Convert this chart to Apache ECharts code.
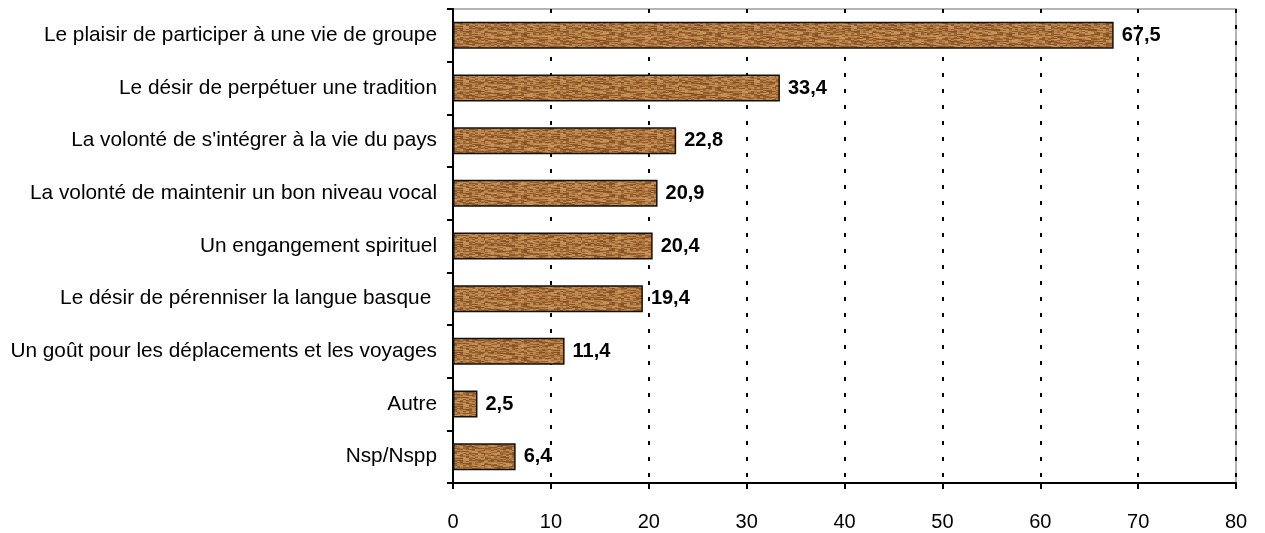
<!DOCTYPE html>
<html>
<head>
<meta charset="utf-8">
<script src="https://cdn.jsdelivr.net/npm/echarts@6/dist/echarts.min.js"></script>
<style>
html,body{margin:0;padding:0;background:#fff;}
#c{width:1265px;height:533px;}
</style>
</head>
<body>
<div id="c"></div>
<script>
const categories = [
  "Le plaisir de participer à une vie de groupe",
  "Le désir de perpétuer une tradition",
  "La volonté de s'intégrer à la vie du pays",
  "La volonté de maintenir un bon niveau vocal",
  "Un engangement spirituel",
  "Le désir de pérenniser la langue basque ",
  "Un goût pour les déplacements et les voyages",
  "Autre",
  "Nsp/Nspp"
];
const values = [67.5, 33.4, 22.8, 20.9, 20.4, 19.4, 11.4, 2.5, 6.4];
const xTicks = { min: 0, max: 80, interval: 10 };

// wood-like texture (style only)
function makeWood() {
  const c = document.createElement('canvas');
  c.width = 97; c.height = 27;
  const g = c.getContext('2d');
  g.fillStyle = '#a46a36';
  g.fillRect(0, 0, c.width, c.height);
  const shades = ['#c8955a', '#8c5326', '#b98147', '#7f4b22', '#cf9f63', '#9a5f2c', '#b0773f'];
  for (let y = 0; y < c.height; y++) {
    for (let x = 0; x < c.width; x += 3) {
      const k = Math.floor(Math.abs(Math.sin(x * 0.37 + y * 1.91) * 7 + Math.cos(y * 0.83 + x * 0.05) * 5)) % shades.length;
      const len = 3 + (Math.floor(Math.abs(Math.sin(x * 1.3 + y)) * 7));
      g.globalAlpha = 0.7;
      g.fillStyle = shades[k];
      g.fillRect(x, y, len, 1);
    }
  }
  g.globalAlpha = 1;
  return c;
}

const FONT = 'Liberation Sans, Arial, sans-serif';
const chart = echarts.init(document.getElementById('c'), null, { renderer: 'canvas' });
chart.setOption({
  animation: false,
  backgroundColor: '#fff',
  grid: { left: 453, right: 29, top: 9, bottom: 50, show: true, borderColor: '#9a9a9a', borderWidth: 1.5, backgroundColor: 'transparent' },
  xAxis: {
    type: 'value',
    min: xTicks.min, max: xTicks.max, interval: xTicks.interval,
    axisLine: { show: true, lineStyle: { color: '#000', width: 2 } },
    axisTick: { show: true, length: 6, lineStyle: { color: '#000', width: 2 } },
    axisLabel: { color: '#000', fontSize: 20, fontFamily: FONT, margin: 29 },
    splitLine: { show: true, lineStyle: { color: '#000', width: 2, type: [4, 12] } }
  },
  yAxis: {
    type: 'category',
    data: categories,
    inverse: true,
    axisLine: { show: true, lineStyle: { color: '#000', width: 2 } },
    axisTick: { show: true, length: 6, lineStyle: { color: '#000', width: 2 } },
    axisLabel: { color: '#000', fontSize: 20.8, fontFamily: FONT, margin: 16 },
    splitLine: { show: false }
  },
  series: [{
    type: 'bar',
    data: values,
    barWidth: 27,
    itemStyle: { color: { image: makeWood(), repeat: 'repeat' }, borderColor: '#111', borderWidth: 1.5 },
    label: {
      show: true, position: 'right', distance: 8,
      color: '#000', fontSize: 20, fontWeight: 'bold', fontFamily: FONT,
      formatter: p => String(p.value).replace('.', ',')
    }
  }]
});
</script>
</body>
</html>
